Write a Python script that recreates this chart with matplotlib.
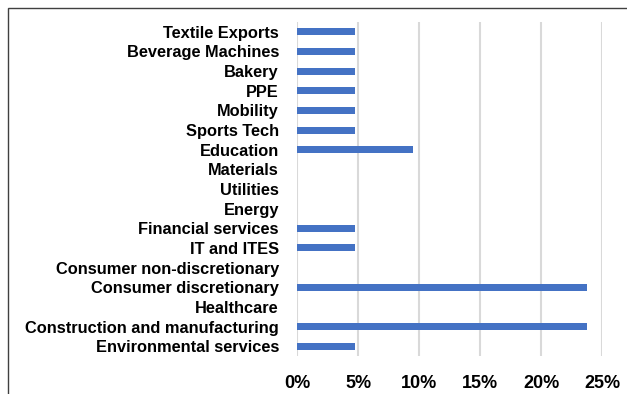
import matplotlib
matplotlib.use('Agg')
import matplotlib.pyplot as plt
from matplotlib.patches import Rectangle
from matplotlib.ticker import PercentFormatter

plt.rcParams['font.family'] = ['Liberation Sans', 'DejaVu Sans']

sectors = [
    'Textile Exports', 'Beverage Machines', 'Bakery', 'PPE', 'Mobility',
    'Sports Tech', 'Education', 'Materials', 'Utilities', 'Energy',
    'Financial services', 'IT and ITES', 'Consumer non-discretionary',
    'Consumer discretionary', 'Healthcare', 'Construction and manufacturing',
    'Environmental services',
]
shares = [
    1/21, 1/21, 1/21, 1/21, 1/21,
    1/21, 2/21, 0, 0, 0,
    1/21, 1/21, 0,
    5/21, 0, 5/21,
    1/21,
]
ticks = [0, 0.05, 0.10, 0.15, 0.20, 0.25]


def main():
    fig = plt.figure(figsize=(6.27, 3.94), dpi=100)
    ax = fig.add_axes([297/627, 38/394, 305/627, 334/394])

    pos = list(range(len(sectors)))[::-1]
    ax.barh(pos, shares, height=0.36, color='#4472C4', zorder=3)

    ax.set_xlim(0, 0.25)
    ax.set_ylim(-0.5, len(sectors) - 0.5)
    ax.set_xticks(ticks)
    ax.xaxis.set_major_formatter(PercentFormatter(1.0, decimals=0))
    ax.set_yticks(pos)
    ax.set_yticklabels(sectors)
    ax.tick_params(length=0)
    ax.tick_params(axis='y', pad=13)
    ax.tick_params(axis='x', pad=14)
    for lbl in ax.get_yticklabels():
        lbl.set_fontweight('bold')
        lbl.set_fontsize(11.8)
    for lbl in ax.get_xticklabels():
        lbl.set_fontweight('bold')
        lbl.set_fontsize(13)

    ax.grid(axis='x', color='#D9D9D9', linewidth=1.5, zorder=0)
    for side in ax.spines.values():
        side.set_visible(False)

    # outer chart frame, cut off at the right and bottom
    fig.patches.append(Rectangle((8/627, -0.2), 1.2, 1.2 - 8/394,
                                 transform=fig.transFigure, fill=False,
                                 edgecolor='#404040', linewidth=1.0))

    fig.savefig('out.png', dpi=100)


if __name__ == '__main__':
    main()
